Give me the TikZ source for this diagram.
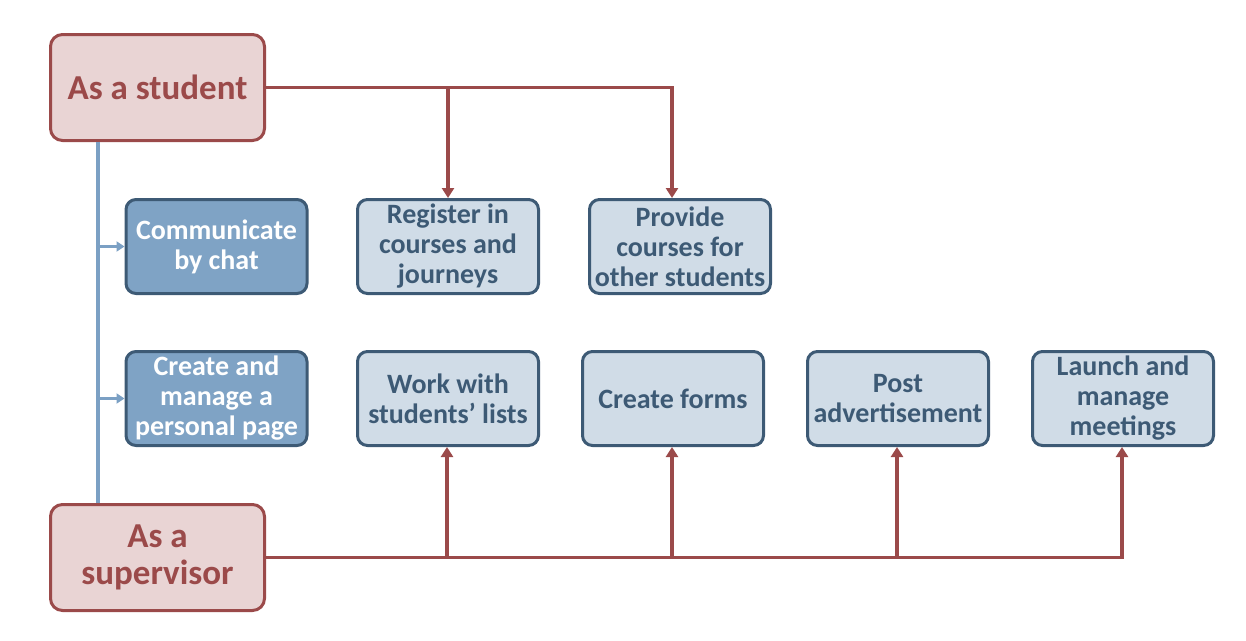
\documentclass[tikz,border=0pt]{standalone}
\usepackage{fontspec}
\setmainfont{Carlito}
\usetikzlibrary{arrows.meta}

\definecolor{rolefill}{HTML}{E9D4D4}
\definecolor{roleline}{HTML}{9B4A4A}
\definecolor{taskfill}{HTML}{D0DCE7}
\definecolor{taskline}{HTML}{3D5A75}
\definecolor{commonfill}{HTML}{7FA3C5}
\definecolor{shareline}{HTML}{7BA0C4}

\begin{document}
\begin{tikzpicture}[x=1pt,y=-1pt,
	role/.style={draw=roleline, fill=rolefill, line width=3pt, rounded corners=12pt,
		minimum width=214pt, minimum height=106pt, inner sep=4pt, align=center,
		text=roleline, font=\fontsize{35}{37}\selectfont\bfseries},
	task/.style={draw=taskline, fill=taskfill, line width=3pt, rounded corners=10pt,
		minimum width=181pt, minimum height=94pt, inner sep=4pt, align=center,
		text=taskline, font=\fontsize{28}{30}\selectfont\bfseries},
	common/.style={task, fill=commonfill, text=white},
	link/.style={draw=roleline, line width=3.6pt, -{Triangle[length=10pt,width=12pt]}},
	share/.style={draw=shareline, line width=3.4pt},
	sharelink/.style={share, -{Triangle[length=8pt,width=10pt]}}
]

	% ---- frame

	\useasboundingbox (0,0) rectangle (1246,640);

	% ---- roles

	\node[role] (student) at (157.5,87.5) {As a student};
	\node[role] (supervisor) at (157.5,557.5) {As a\\supervisor};

	% ---- tasks of both roles

	\node[common] (chat) at (216.5,246.5) {Communicate\\by chat};
	\node[common] (page) at (216.5,398.5) {Create and\\manage a\\personal page};

	% ---- student tasks

	\node[task] (register) at (448,246.5) {Register in\\courses and\\journeys};
	\node[task] (provide) at (680,246.5) {Provide\\courses for\\other students};

	% ---- supervisor tasks

	\node[task] (lists) at (448,398.5) {Work with\\students’ lists};
	\node[task] (forms) at (673,398.5) {Create forms};
	\node[task] (post) at (898,398.5) {Post\\advertisement};
	\node[task] (meetings) at (1123,398.5) {Launch and\\manage\\meetings};

	% ---- shared spine

	\coordinate (spine) at ([xshift=-59.5pt]student.south);
	\draw[share] (spine) -- (spine |- supervisor.north);
	\draw[sharelink] (spine |- chat.west) -- (chat.west);
	\draw[sharelink] (spine |- page.west) -- (page.west);

	% ---- student links

	\draw[link] (student.east) -| (register.north);
	\draw[link] (student.east) -| ([xshift=-8pt]provide.north);

	% ---- supervisor links

	\foreach \t in {lists,forms,post,meetings} {
		\draw[link] (supervisor.east) -| ([xshift=-1pt]\t.south);
	}

\end{tikzpicture}
\end{document}
